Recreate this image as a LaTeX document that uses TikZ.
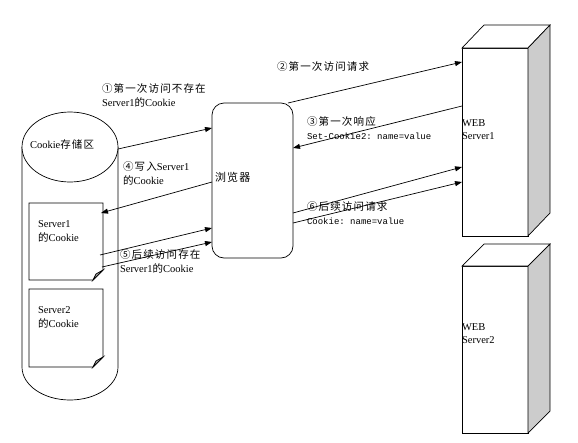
\documentclass[tikz,border=0pt]{standalone}
\usepackage{fontspec}
\setmainfont{Liberation Serif}
\setmonofont{Liberation Mono}
\newfontfamily\cjk[LetterSpace=11]{Noto Sans CJK SC}
\usetikzlibrary{arrows.meta,calc,shapes.geometric}
\newcommand\zh[1]{{\cjk #1}}
\newcommand\mono[1]{{\ttfamily\fontsize{9}{13.5}\selectfont #1}}
\begin{document}
\begin{tikzpicture}[x=1pt,y=-1pt,
  line width=0.7pt,
  arr/.style={-{Triangle[length=7pt,width=5pt]}},
  lbl/.style={anchor=north west, inner sep=0pt, outer sep=0pt, align=left, font=\fontsize{10.5}{13.5}\selectfont},
  boxnode/.style={draw, fill=white, inner sep=0pt, outer sep=0pt, anchor=north west},
  ghost/.style={inner sep=0pt, outer sep=0pt, anchor=north west},
  side/.style={draw, fill=black!20},
  fold/.style={draw, fill=black!35}]
\useasboundingbox (0,0) rectangle (578,442);

% ---------- cylinder (cookie store)
\fill[white] (22,147) -- (22,367) .. controls (22,385.2) and (43.5,400) .. (70,400)
  .. controls (96.5,400) and (118,385.2) .. (118,367) -- (118,147) -- cycle;
\draw (22,147) -- (22,367) .. controls (22,385.2) and (43.5,400) .. (70,400)
  .. controls (96.5,400) and (118,385.2) .. (118,367) -- (118,147);
\node[ellipse, draw, fill=white, minimum width=96pt, minimum height=70pt, inner sep=0pt, outer sep=0pt] (cyltop) at (70,147) {};
\node[lbl, anchor=west] (cyllbl) at (30,144) {Cookie\zh{存储区}};

% ---------- documents
\node[ghost, minimum width=74pt, minimum height=77pt] (doc1) at (29,203) {};
\draw[fill=white] (doc1.north west) -- (doc1.north east) -- ($(doc1.south east)+(0,-10)$)
  -- ($(doc1.south east)+(-10,0)$) -- (doc1.south west) -- cycle;
\draw[fold] ($(doc1.south east)+(0,-10)$) -- ($(doc1.south east)+(-10,0)$) -- ($(doc1.south east)+(-7,-6)$) -- cycle;
\node[lbl] (doc1lbl) at (38,221) {Server1\\\zh{的}Cookie};

\node[ghost, minimum width=74pt, minimum height=78pt] (doc2) at (29,289) {};
\draw[fill=white] (doc2.north west) -- (doc2.north east) -- ($(doc2.south east)+(0,-10)$)
  -- ($(doc2.south east)+(-10,0)$) -- (doc2.south west) -- cycle;
\draw[fold] ($(doc2.south east)+(0,-10)$) -- ($(doc2.south east)+(-10,0)$) -- ($(doc2.south east)+(-7,-6)$) -- cycle;
\node[lbl] (doc2lbl) at (38,307) {Server2\\\zh{的}Cookie};

% ---------- browser
\node[boxnode, rounded corners=12pt, minimum width=81pt, minimum height=155pt] (browser) at (212,103) {};
\node[lbl, anchor=west, font=\fontsize{11}{13}\selectfont] (browserlbl) at (215,177) {\zh{浏览器}};

% ---------- web servers
\node[boxnode, minimum width=66pt, minimum height=188pt] (srv1) at (462,48) {};
\draw[fill=white] (srv1.north west) -- ($(srv1.north west)+(22,-23)$) -- ($(srv1.north east)+(22,-23)$) -- (srv1.north east) -- cycle;
\draw[side] (srv1.north east) -- ($(srv1.north east)+(22,-23)$) -- ($(srv1.south east)+(22,-23)$) -- (srv1.south east) -- cycle;
\node[lbl, font=\fontsize{10.5}{12.5}\selectfont] (srv1lbl) at (462,120) {WEB\\Server1};

\node[boxnode, minimum width=66pt, minimum height=167pt] (srv2) at (462,266) {};
\draw[fill=white] (srv2.north west) -- ($(srv2.north west)+(22,-22)$) -- ($(srv2.north east)+(22,-22)$) -- (srv2.north east) -- cycle;
\draw[side] (srv2.north east) -- ($(srv2.north east)+(22,-22)$) -- ($(srv2.south east)+(22,-22)$) -- (srv2.south east) -- cycle;
\node[lbl, font=\fontsize{10.5}{12.5}\selectfont] (srv2lbl) at (462,324) {WEB\\Server2};

% ---------- arrows
\draw[arr] ($(cyltop.east)+(0,2)$) -- ($(browser.north west)+(0,25)$);
\draw[arr] ($(browser.north west)+(0,79)$) -- ($(doc1.north east)+(-2,10)$);
\draw[arr] ($(doc1.north east)+(-3,52)$) -- ($(browser.north west)+(0,125)$);
\draw[arr] ($(doc1.north east)+(-1,64)$) -- ($(browser.north west)+(0,139)$);
\draw[arr] ($(browser.north east)+(-5,0)$) -- ($(srv1.north west)+(0,14)$);
\draw[arr] ($(srv1.north west)+(0,58)$) -- ($(browser.north east)+(0,45)$);
\draw[arr] ($(browser.north east)+(0,110)$) -- ($(srv1.north west)+(0,119)$);
\draw[arr] ($(browser.north east)+(0,120)$) -- ($(srv1.north west)+(0,134)$);

% ---------- labels
\node[lbl] (l1) at (102,84) {\zh{①第一次访问不存在}\\Server1\zh{的}Cookie};
\node[lbl] (l4) at (123,162) {\zh{④写入}Server1\\\zh{的}Cookie};
\node[lbl] (l5) at (120,250) {\zh{⑤后续访问存在}\\Server1\zh{的}Cookie};
\node[lbl] (l2) at (277,62) {\zh{②第一次访问请求}};
\node[lbl] (l3) at (307,117) {\zh{③第一次响应}\\\mono{Set-Cookie2: name=value}};
\node[lbl] (l6) at (307,202) {\zh{⑥后续访问请求}\\\mono{Cookie: name=value}};
\end{tikzpicture}
\end{document}
